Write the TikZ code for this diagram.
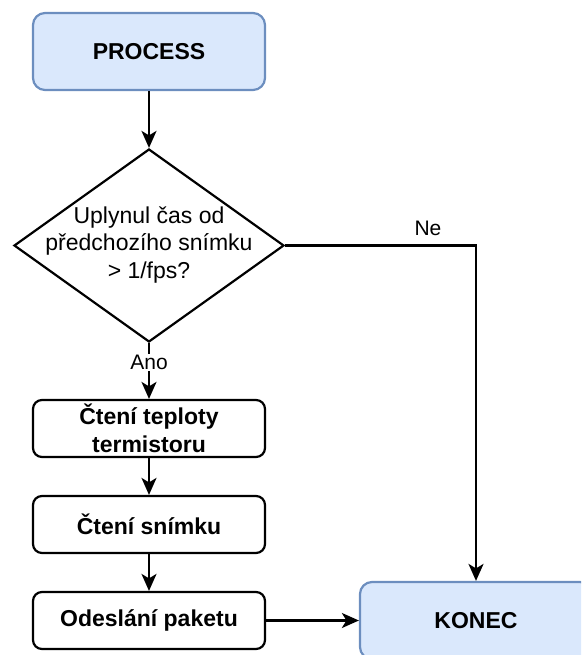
\documentclass[tikz,border=0pt]{standalone}
\usepackage{fontspec}
\setmainfont{Liberation Sans}
\usetikzlibrary{shapes.geometric,arrows.meta}
\definecolor{termfill}{HTML}{DAE8FC}
\definecolor{termdraw}{HTML}{6C8EBF}
\tikzset{
  base/.style={line width=2.2pt},
  terminal/.style={base, draw=termdraw, fill=termfill, rounded corners=12pt,
    minimum width=232pt, minimum height=77pt, inner sep=0pt,
    font=\fontsize{23}{27.6}\selectfont\bfseries},
  stepbox/.style={base, draw=black, fill=white, rounded corners=9pt,
    minimum width=232pt, minimum height=57pt, inner sep=0pt, align=center,
    font=\fontsize{23}{27.6}\selectfont\bfseries},
  decision/.style={base, draw=black, fill=white, diamond,
    minimum width=270pt, minimum height=193pt, inner sep=0pt},
  conn/.style={base, draw=black, -{Stealth[length=17pt,width=15pt,inset=4.5pt]}},
  edgelabel/.style={font=\fontsize{21}{25}\selectfont, fill=white, inner sep=1pt}
}
\begin{document}
\begin{tikzpicture}[x=1pt,y=-1pt]
  \useasboundingbox (0,0) rectangle (581,655);
  \begin{scope}
    \clip (0,0) rectangle (581,655);

    \node[terminal] (process) at (149,51.5) {PROCESS};
    \node[decision] (dec) at (149,245.5) {};
    \node[align=center, font=\fontsize{23}{27.6}\selectfont] (dectext) at (149,245)
      {Uplynul čas od\\předchozího snímku\\> 1/fps?};
    \node[stepbox] (teplota) at (149,428.5) {Čtení teploty\\termistoru};
    \node[stepbox] (snimek) at (149,524.5) {Čtení snímku};
    \node[stepbox] (paket) at (149,620.5) {Odeslání paketu};
    \node[terminal] (konec) at (476,620.5) {KONEC};

    \draw[conn] (process.south) -- (dec.north);
    \draw[conn] (dec.south) -- (teplota.north)
      node[edgelabel, pos=0.35] (ano) {Ano};
    \draw[conn] (teplota.south) -- (snimek.north);
    \draw[conn] (snimek.south) -- (paket.north);
    \draw[conn] (paket.east) -- (konec.west);
    \draw[conn] (dec.east) -| (konec.north);
    \node[edgelabel, fill=none] (ne) at (428,228) {Ne};
  \end{scope}
\end{tikzpicture}
\end{document}
